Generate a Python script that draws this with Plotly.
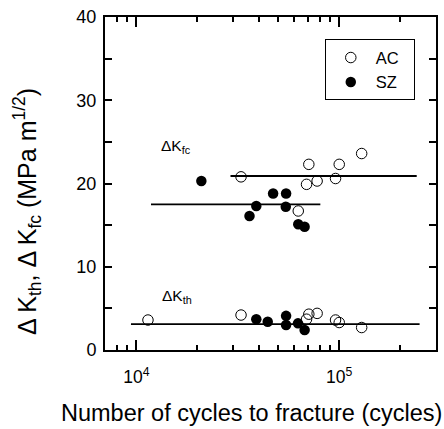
import plotly.graph_objects as go
import numpy as np

# ---- data ----
AC_cycles_fc = [32800, 70800, 100000, 129000, 69000, 77800, 95900, 62800]
AC_dKfc = [20.8, 22.3, 22.3, 23.6, 19.9, 20.3, 20.6, 16.7]
SZ_cycles_fc = [20900, 47200, 54700, 39000, 54500, 36100, 62800, 67500]
SZ_dKfc = [20.3, 18.8, 18.8, 17.3, 17.2, 16.1, 15.1, 14.8]

AC_cycles_th = [11400, 32800, 69000, 70800, 77800, 95900, 100000, 129000]
AC_dKth = [3.6, 4.2, 3.7, 4.3, 4.4, 3.6, 3.3, 2.7]
SZ_cycles_th = [39000, 44400, 54700, 54700, 62600, 67500]
SZ_dKth = [3.7, 3.4, 4.1, 3.0, 3.2, 2.4]

# mean lines: [x start, x end], level
AC_fc_line_x = [29100, 241000]
AC_fc_level = 20.9
SZ_fc_line_x = [11800, 80700]
SZ_fc_level = 17.5
th_line_x = [9400, 249000]
th_level = 3.1

x_tickvals = [1e4, 1e5]
x_ticktext = ["10<sup>4</sup>", "10<sup>5</sup>"]
x_minor = [8e3, 9e3, 2e4, 3e4, 4e4, 5e4, 6e4, 7e4, 8e4, 9e4, 2e5, 3e5]
y_tickvals = [0, 10, 20, 30, 40]

FONT = "Liberation Sans, Arial, sans-serif"

fig = go.Figure()

for xs, lvl in [(AC_fc_line_x, AC_fc_level), (SZ_fc_line_x, SZ_fc_level), (th_line_x, th_level)]:
    fig.add_trace(go.Scatter(x=xs, y=[lvl, lvl], mode="lines",
                             line=dict(color="black", width=1.8),
                             showlegend=False, hoverinfo="skip"))

fig.add_trace(go.Scatter(x=AC_cycles_fc + AC_cycles_th, y=AC_dKfc + AC_dKth,
                         mode="markers", name="AC\u00a0\u00a0",
                         marker=dict(symbol="circle-open", size=10.5, color="black",
                                     line=dict(width=1, color="black"))))
fig.add_trace(go.Scatter(x=SZ_cycles_fc + SZ_cycles_th, y=SZ_dKfc + SZ_dKth,
                         mode="markers", name="SZ\u00a0\u00a0",
                         marker=dict(symbol="circle", size=10.5, color="black",
                                     line=dict(width=0))))

fig.update_xaxes(type="log", range=[np.log10(7000), np.log10(3e5)],
                 tickvals=x_tickvals, ticktext=x_ticktext,
                 ticks="inside", ticklen=10, tickwidth=1.5, tickcolor="black",
                 minor=dict(tickvals=x_minor, ticks="inside", ticklen=5,
                            tickwidth=1.5, tickcolor="black"),
                 showline=True, linecolor="black", linewidth=2, mirror="ticks",
                 showgrid=False, zeroline=False,
                 tickfont=dict(family=FONT, size=17.5, color="black"),
                 ticklabelstandoff=10)
fig.update_yaxes(range=[0, 40], tickvals=y_tickvals,
                 ticks="inside", ticklen=7, tickwidth=1.5, tickcolor="black",
                 minor=dict(dtick=5, ticks="inside", ticklen=7, tickwidth=1.5,
                            tickcolor="black"),
                 showline=True, linecolor="black", linewidth=2, mirror="ticks",
                 showgrid=False, zeroline=False,
                 tickfont=dict(family=FONT, size=18, color="black"),
                 ticklabelstandoff=3)

fig.add_annotation(text="ΔK<sub>fc</sub>", xref="paper", yref="y", x=0.162, y=24.4,
                   xanchor="left", yanchor="middle", showarrow=False,
                   font=dict(family=FONT, size=15.5, color="black"))
fig.add_annotation(text="ΔK<sub>th</sub>", xref="paper", yref="y", x=0.165, y=6.4,
                   xanchor="left", yanchor="middle", showarrow=False,
                   font=dict(family=FONT, size=15.5, color="black"))

fig.add_annotation(text="Number of cycles to fracture (cycles)", xref="paper", yref="paper",
                   x=0.442, y=-0.19, xanchor="center", yanchor="middle", showarrow=False,
                   font=dict(family=FONT, size=23.5, color="black"))
fig.add_annotation(text="Δ K<sub>th</sub>, Δ K<sub>fc</sub> (MPa m<sup>1/2</sup>)",
                   xref="paper", yref="paper", x=-0.235, y=0.415, textangle=-90,
                   xanchor="center", yanchor="middle", showarrow=False,
                   font=dict(family=FONT, size=25, color="black"))

fig.update_layout(
    width=444, height=429,
    margin=dict(l=105, r=6, t=17, b=79),
    paper_bgcolor="white", plot_bgcolor="white",
    font=dict(family=FONT, color="black"),
    legend=dict(x=0.664, y=0.933, xanchor="left", yanchor="top",
                bgcolor="white", bordercolor="black", borderwidth=1,
                font=dict(family=FONT, size=16.5, color="black"),
                itemwidth=40, tracegroupgap=0),
)

fig.write_html("out.html")
